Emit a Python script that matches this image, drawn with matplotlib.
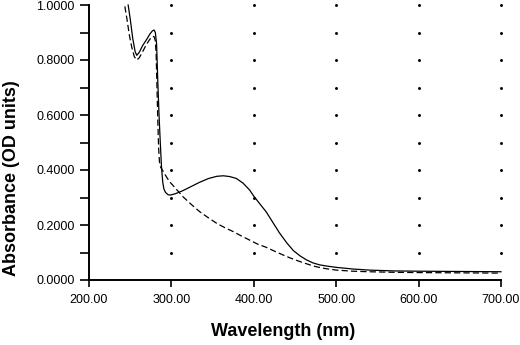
import matplotlib
matplotlib.use("Agg")
import matplotlib.pyplot as plt
import numpy as np

plt.rcParams['font.family'] = ['Liberation Sans', 'DejaVu Sans']

# Solid trace (wavelength nm, absorbance)
solid_wl = [247.5, 250, 253, 256, 258, 261, 265, 270, 274, 277, 279, 280.5, 282, 283.5,
            285, 286.5, 288, 289.5, 291, 293, 296, 299, 305, 314, 324, 334, 345, 355,
            363, 371, 379, 387, 395, 400, 407, 415, 423, 431, 440, 448, 456, 464, 472,
            480, 490, 500, 520, 540, 570, 600, 650, 700]
solid_abs = [1.000, 0.950, 0.880, 0.830, 0.817, 0.828, 0.852, 0.875, 0.895, 0.906, 0.909,
             0.900, 0.860, 0.720, 0.600, 0.500, 0.410, 0.355, 0.330, 0.318, 0.310, 0.309,
             0.314, 0.325, 0.340, 0.355, 0.369, 0.377, 0.379, 0.376, 0.369, 0.352, 0.327,
             0.305, 0.278, 0.248, 0.210, 0.172, 0.135, 0.107, 0.088, 0.073, 0.062, 0.055,
             0.050, 0.046, 0.040, 0.036, 0.033, 0.032, 0.031, 0.030]

# Dashed trace
dashed_wl = [243.5, 246, 249, 252, 255, 258, 261, 265, 270, 274, 277, 279, 280.5, 281.5,
             282.5, 283.5, 284.5, 285.5, 287, 290, 294, 298, 306, 314, 324, 334.5, 345,
             355, 365, 375, 385, 395, 405, 415, 425, 435.5, 446, 456, 466, 476, 488, 500,
             520, 540, 570, 600, 650, 700]
dashed_abs = [0.995, 0.950, 0.890, 0.845, 0.812, 0.800, 0.808, 0.830, 0.858, 0.876, 0.886,
              0.885, 0.870, 0.820, 0.700, 0.580, 0.480, 0.430, 0.410, 0.395, 0.375, 0.357,
              0.330, 0.303, 0.275, 0.248, 0.226, 0.206, 0.190, 0.176, 0.160, 0.145, 0.130,
              0.119, 0.105, 0.091, 0.078, 0.067, 0.057, 0.048, 0.041, 0.036, 0.032, 0.030,
              0.028, 0.027, 0.026, 0.025]

# Dot grid
dot_x = [300, 400, 500, 600, 700]
dot_y = [0.1, 0.2, 0.3, 0.4, 0.5, 0.6, 0.7, 0.8, 0.9, 1.0]

x_ticks = [200, 300, 400, 500, 600, 700]
x_labels = ['200.00', '300.00', '400.00', '500.00', '600.00', '700.00']
y_ticks = [0.0, 0.1, 0.2, 0.3, 0.4, 0.5, 0.6, 0.7, 0.8, 0.9, 1.0]
y_labels = ['0.0000', '', '0.2000', '', '0.4000', '', '0.6000', '', '0.8000', '', '1.0000']

fig = plt.figure(figsize=(5.2, 3.45), dpi=100)
ax = fig.add_axes([89/520, 1-280/345, (501-89)/520, (280-5)/345])

gx, gy = np.meshgrid(dot_x, dot_y)
ax.scatter(gx.ravel(), gy.ravel(), s=4.5, color='black', linewidths=0, zorder=2, clip_on=False)

ax.plot(solid_wl, solid_abs, color='black', lw=0.9, zorder=3, clip_on=False)
ax.plot(dashed_wl, dashed_abs, color='black', lw=0.9, ls=(0, (5, 2.5)), zorder=3, clip_on=False)

ax.set_xlim(200, 700)
ax.set_ylim(0, 1.0)
ax.spines['top'].set_visible(False)
ax.spines['right'].set_visible(False)
for s in ('left', 'bottom'):
    ax.spines[s].set_linewidth(1.4)

ax.set_xticks(x_ticks)
ax.set_xticklabels(x_labels, fontsize=9)
ax.set_yticks(y_ticks)
ax.set_yticklabels(y_labels, fontsize=9)
ax.tick_params(axis='x', direction='out', length=5, width=1.2, pad=5)
ax.tick_params(axis='y', direction='out', length=6.5, width=1.2, pad=4)

fig.text(283.5/520, 1-331/345, 'Wavelength (nm)', ha='center', va='center',
         fontsize=13, fontweight='bold')
fig.text(12/520, 1-178/345, 'Absorbance (OD units)', ha='center', va='center',
         rotation=90, fontsize=13, fontweight='bold')

fig.savefig('out.png', dpi=100)
